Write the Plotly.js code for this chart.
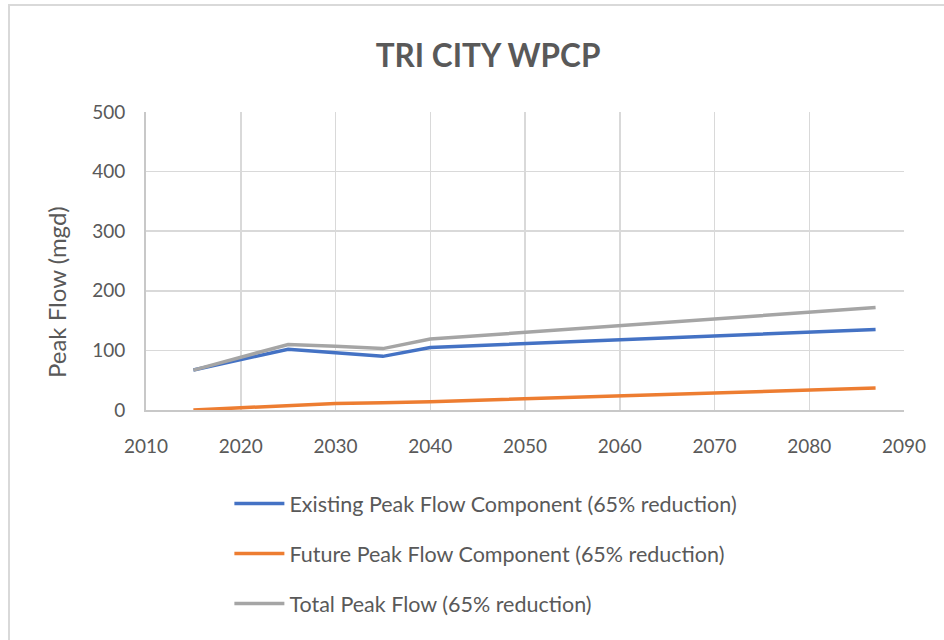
<!DOCTYPE html>
<html>
<head>
<meta charset="utf-8">
<script src="https://cdn.plot.ly/plotly-3.0.1.min.js"></script>
<style>
  html, body { margin: 0; padding: 0; background: #ffffff; }
  #frame { position: absolute; left: 8px; top: 4px; width: 960px; height: 700px;
           border-left: 2px solid #d9d9d9; border-top: 2px solid #d9d9d9; }
  #chart { position: absolute; left: 0; top: 0; width: 944px; height: 640px; }
</style>
</head>
<body>
<div id="frame"></div>
<div id="chart"></div>
<script>
const years = [2015, 2025, 2030, 2035, 2040, 2087];
const existingPeak = [67, 102, 96, 90, 105, 135];
const futurePeak = [0, 7, 11, 12, 14, 37];
const totalPeak = [67, 110, 107, 103, 119, 172];

const seriesNames = [
  'Existing Peak Flow Component (65% reduction)',
  'Future Peak Flow Component (65% reduction)',
  'Total Peak Flow (65% reduction)'
];
const chartTitle = 'TRI CITY WPCP';
const yTitle = 'Peak Flow (mgd)';

const fontFam = 'Lato, "Open Sans", sans-serif';
const textColor = '#595959';

const traces = [
  { x: years, y: existingPeak, name: seriesNames[0], legendgroup: 'a',
    mode: 'lines', line: { color: '#4472c4', width: 3.5 } },
  { x: years, y: futurePeak, name: seriesNames[1], legendgroup: 'b',
    mode: 'lines', line: { color: '#ed7d31', width: 3.5 } },
  { x: years, y: totalPeak, name: seriesNames[2], legendgroup: 'c',
    mode: 'lines', line: { color: '#a5a5a5', width: 3.5 } }
];

const layout = {
  width: 944, height: 640,
  margin: { l: 146, r: 40, t: 112, b: 230 },
  paper_bgcolor: 'rgba(0,0,0,0)',
  plot_bgcolor: '#ffffff',
  font: { family: fontFam, color: textColor, size: 19 },
  title: { text: '<b>' + chartTitle + '</b>', x: 0.517, xanchor: 'center', y: 0.912, yanchor: 'middle',
           font: { family: fontFam, size: 31.5, color: textColor } },
  xaxis: {
    range: [2010, 2090], dtick: 10, tick0: 2010, tickmode: 'linear',
    showgrid: true, gridcolor: '#d9d9d9', gridwidth: 1.5,
    showline: true, linecolor: '#c8c8c8', linewidth: 2,
    zeroline: false, ticks: '', ticklabelstandoff: 18,
    tickfont: { family: fontFam, size: 19, color: textColor }
  },
  yaxis: {
    range: [0, 500], dtick: 100, tickmode: 'linear',
    showgrid: true, gridcolor: '#d9d9d9', gridwidth: 1.5,
    showline: true, linecolor: '#c8c8c8', linewidth: 2,
    zeroline: false, ticks: '', ticklabelstandoff: 15,
    tickfont: { family: fontFam, size: 19, color: textColor }
  },
  annotations: [{
    text: yTitle, xref: 'paper', yref: 'paper', x: -0.1174, y: 0.396,
    xanchor: 'center', yanchor: 'middle', textangle: -90, showarrow: false,
    font: { family: fontFam, size: 24, color: textColor }
  }],
  showlegend: true,
  legend: {
    orientation: 'v', x: 0.11, xanchor: 'left', y: -0.245, yanchor: 'top',
    tracegroupgap: 19, itemwidth: 50,
    font: { family: fontFam, size: 21.5, color: textColor },
    bgcolor: 'rgba(0,0,0,0)'
  }
};

Plotly.newPlot('chart', traces, layout, { displayModeBar: false, staticPlot: true });
</script>
</body>
</html>
